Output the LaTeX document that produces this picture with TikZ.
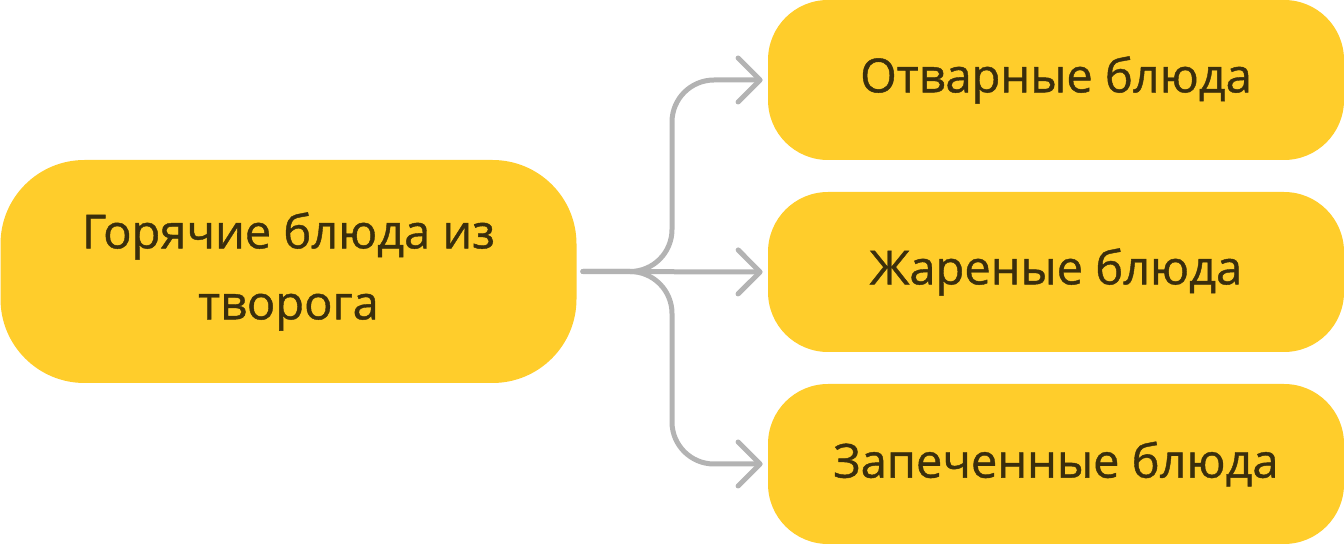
\documentclass[tikz,border=0pt]{standalone}
\usepackage{fontspec}
\setmainfont{Open Sans}[FakeBold=0.9]
\usetikzlibrary{arrows.meta}
\definecolor{dishyellow}{HTML}{FFCD2B}
\definecolor{dishtext}{HTML}{3A2E0C}
\definecolor{linkgray}{HTML}{B3B3B3}
\tikzset{
  dish/.style={fill=dishyellow, text=dishtext, rounded corners=30pt,
    minimum width=288pt, minimum height=80pt, inner sep=0pt,
    font=\fontsize{23.5}{35.5}\selectfont, align=center},
  link/.style={draw=linkgray, line width=2.5pt, line cap=round, line join=round,
    rounded corners=21pt, shorten <=3pt, shorten >=2.5pt,
    -{Straight Barb[length=11pt,width=22pt,line cap=round,line join=round]}}
}
\begin{document}
\begin{tikzpicture}[x=0.5pt,y=-0.5pt]
\useasboundingbox (0,0) rectangle (1344,544);
\node[dish, minimum height=111.5pt, rounded corners=42pt] (src) at (288.5,271.5)
  {Горячие блюда из\\творога};
\node[dish] (boiled) at (1056,80) {Отварные блюда};
\node[dish] (fried) at (1056,272) {Жареные блюда};
\node[dish] (baked) at (1056,464) {Запеченные блюда};
\coordinate (spine) at (672,271.5);
\draw[link] (src.east) -- (spine) |- (boiled.west);
\draw[link] (src.east) -- (fried.west);
\draw[link] (src.east) -- (spine) |- (baked.west);
\end{tikzpicture}
\end{document}
